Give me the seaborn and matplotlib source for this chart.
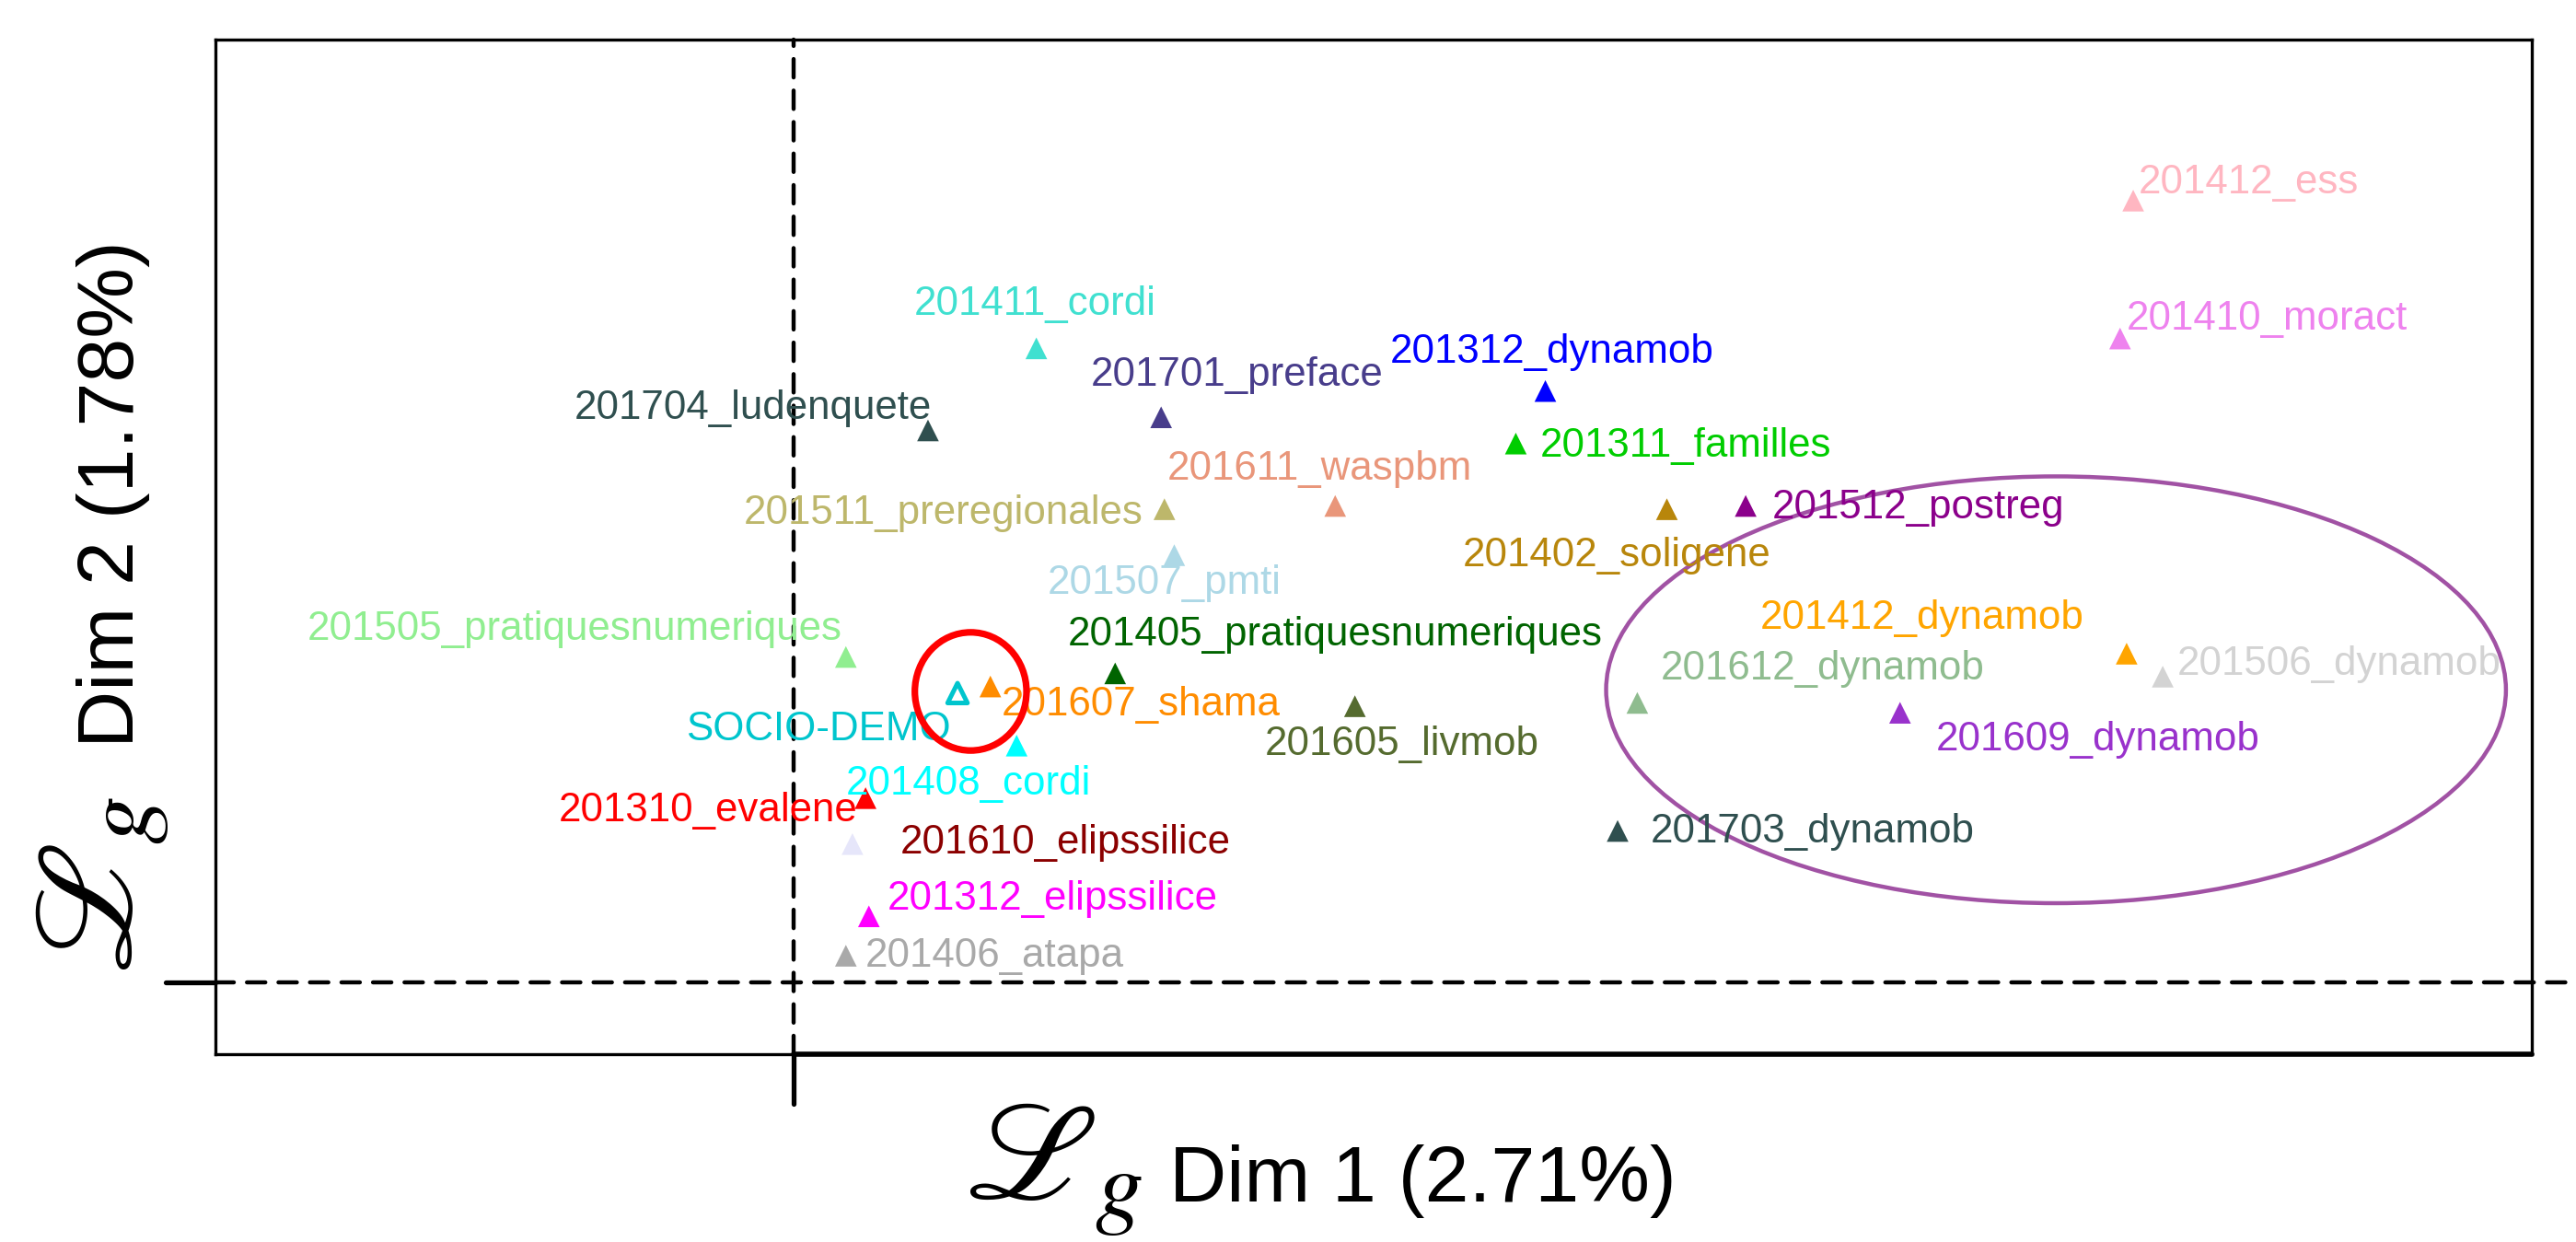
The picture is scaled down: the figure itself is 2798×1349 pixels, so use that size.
### MCA map of the surveys on the first two dimensions ###
import numpy as np
import pandas as pd
import matplotlib
matplotlib.use("Agg")
import matplotlib.pyplot as plt
import seaborn as sns
from matplotlib.patches import Ellipse

# survey coordinates on Dim 1 / Dim 2
names = ['201412_ess', '201410_moract', '201411_cordi', '201701_preface',
         '201312_dynamob', '201704_ludenquete', '201311_familles', '201611_waspbm',
         '201511_preregionales', '201402_soligene', '201512_postreg', '201507_pmti',
         '201505_pratiquesnumeriques', '201405_pratiquesnumeriques', '201412_dynamob',
         '201506_dynamob', '201612_dynamob', '201609_dynamob', 'SOCIO-DEMO',
         '201607_shama', '201605_livmob', '201408_cordi', '201310_evalene',
         '201610_elipssilice', '201312_elipssilice', '201406_atapa', '201703_dynamob']
dim1 = [2.04, 2.02, 0.37, 0.56, 1.145, 0.205, 1.10, 0.825, 0.565, 1.33, 1.45, 0.58,
        0.08, 0.49, 2.03, 2.085, 1.285, 1.685, 0.25, 0.30, 0.855, 0.34, 0.11,
        0.09, 0.115, 0.08, 1.255]
dim2 = [1.19, 0.98, 0.965, 0.86, 0.90, 0.84, 0.82, 0.725, 0.72, 0.72, 0.725, 0.65,
        0.495, 0.47, 0.50, 0.465, 0.425, 0.41, 0.44, 0.45, 0.42, 0.36, 0.28,
        0.21, 0.10, 0.04, 0.23]
point_colors = ['#FFB6C1', '#EE82EE', '#40E0D0', '#483D8B', '#0000FF', '#2F4F4F',
                '#00CD00', '#E9967A', '#BDB76B', '#B8860B', '#8B008B', '#ADD8E6',
                '#90EE90', '#006400', '#FFA500', '#D3D3D3', '#8FBC8F', '#9932CC',
                '#00C5CD', '#FF8C00', '#556B2F', '#00FFFF', '#FF0000', '#E6E6FA',
                '#FF00FF', '#A9A9A9', '#2F4F4F']
label_colors = point_colors.copy()
label_colors[names.index('201610_elipssilice')] = '#8B0000'

# label placement (alignment, offset in px of a 1568 wide canvas)
label_pos = [('left', 3, 13), ('left', 4, 14), ('center', -1, 29), ('center', 46, 28),
             ('center', 4, 26), ('right', 2, 16), ('left', 15, 1), ('center', -9.5, 25),
             ('right', -13, 0), ('center', -30.5, -26), ('left', 16, 1), ('center', -6, -15),
             ('right', -2, 19), ('left', -29, 26), ('right', -26, 24), ('left', 9, 10),
             ('left', 14, 23), ('left', 22, -14), ('right', -4, -20), ('left', 7, -9),
             ('left', -55, -21), ('left', -104, -21), ('right', -5, -5), ('left', 29, 3),
             ('left', 11, 13), ('left', 12, 2), ('left', 20, 2)]
PX = 0.6424  # points per canvas px

df = pd.DataFrame({'name': names, 'Dim1': dim1, 'Dim2': dim2})
palette = dict(zip(names, point_colors))

sns.set_style('white')
plt.rcParams['font.family'] = ['Liberation Sans', 'DejaVu Sans']
plt.rcParams['mathtext.fontset'] = 'stix'

fig = plt.figure(figsize=(13.99, 6.745), dpi=200)
ax = fig.add_axes([0.0836, 0.1512, 0.8994, 0.8168])

xmin, xmax, ymin, ymax = -0.88, 2.6475, -0.11, 1.435

# axes through the origin
ax.plot([xmin, 2.70], [0, 0], color='black', lw=1.6, ls=(0, (4.5, 3.2)),
        dash_capstyle='round', clip_on=False, zorder=1)
ax.plot([-0.955, xmin], [0, 0], color='black', lw=1.9, clip_on=False, zorder=1)
ax.plot([0, 0], [ymin, ymax], color='black', lw=1.6, ls=(0, (4.5, 3.2)),
        dash_capstyle='round', clip_on=False, zorder=1)
ax.plot([0, 0], [-0.186, ymin], color='black', lw=1.9, clip_on=False, zorder=1)
ax.plot([0, xmax], [ymin, ymin], color='black', lw=2.0, clip_on=False, zorder=5)

filled = df[df['name'] != 'SOCIO-DEMO']
sns.scatterplot(data=filled, x='Dim1', y='Dim2', hue='name', palette=palette,
                marker='^', s=72, linewidth=0, legend=False, ax=ax, zorder=3)
socio = df[df['name'] == 'SOCIO-DEMO']
ax.scatter(socio['Dim1'], socio['Dim2'], marker='^', s=60, facecolors='none',
           edgecolors=palette['SOCIO-DEMO'], linewidths=1.8, zorder=3)

for i, row in df.iterrows():
    ha, dx, dy = label_pos[i]
    ax.annotate(row['name'], xy=(row['Dim1'], row['Dim2']),
                xytext=(dx * PX, (dy - 8.8) * PX), textcoords='offset points',
                ha=ha, va='baseline', fontsize=15.8, color=label_colors[i], zorder=4)

# highlighted groups
ax.add_patch(Ellipse((0.27, 0.4425), 0.17, 0.18, fill=False, ec='#FF0000', lw=2.6, zorder=4))
ax.add_patch(Ellipse((1.9225, 0.445), 1.37, 0.65, fill=False, ec='#A152A4', lw=1.6, zorder=2))

ax.set_xlim(xmin, xmax)
ax.set_ylim(ymin, ymax)
ax.set_xticks([])
ax.set_yticks([])
ax.set_xlabel('')
ax.set_ylabel('')
for sp in ax.spines.values():
    sp.set_color('black')
    sp.set_linewidth(1.2)

# axis titles
fig.text(1048 / 2798, 1 - 1302 / 1349, r'$\mathscr{L}_{g}$', fontsize=54,
         ha='left', va='baseline', color='black')
fig.text(1270 / 2798, 1 - 1305 / 1349, 'Dim 1 (2.71%)', fontsize=31,
         ha='left', va='baseline', color='black')

fig.text(143 / 2798, 1 - 1058 / 1349, r'$\mathscr{L}_{g}$', fontsize=54, rotation=90,
         ha='left', va='baseline', rotation_mode='anchor', color='black')
fig.text(145 / 2798, 1 - 812 / 1349, 'Dim 2 (1.78%)', fontsize=31, rotation=90,
         ha='left', va='baseline', rotation_mode='anchor', color='black')

plt.savefig('out.png', dpi=200)
